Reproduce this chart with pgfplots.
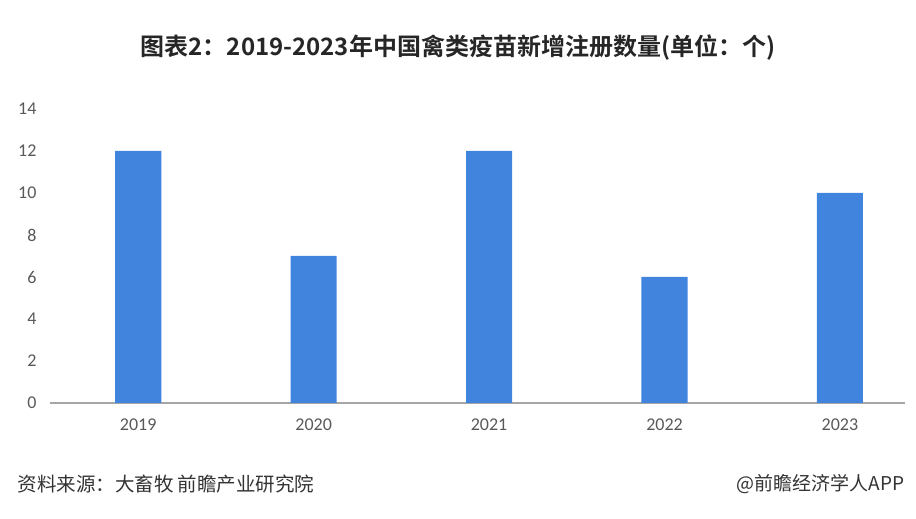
\documentclass[border=0pt]{standalone}
\usepackage{pgfplots}
\pgfplotsset{compat=1.18}
\usepackage{fontspec}
\setmainfont{Carlito}
\newfontfamily\cjk{Noto Sans CJK SC}
\newfontfamily\cjkb{Noto Sans CJK SC Bold}
\definecolor{barblue}{RGB}{65,132,222}
\definecolor{axgray}{RGB}{166,166,166}
\definecolor{ticktxt}{RGB}{89,89,89}
\definecolor{titletxt}{RGB}{38,38,38}
\definecolor{foottxt}{RGB}{51,51,51}
\begin{document}
\begin{tikzpicture}[x=1pt,y=1pt]
\path[use as bounding box] (0,0) rectangle (916,519);
\begin{axis}[
  at={(50pt,116pt)}, anchor=south west,
  scale only axis, width=855pt, height=294pt,
  xmin=-0.503, xmax=4.371, ymin=0, ymax=14,
  ytick={0,2,...,14},
  xtick={0,1,2,3,4},
  xticklabels={2019,2020,2021,2022,2023},
  axis x line*=bottom, axis y line*=left,
  x axis line style={axgray, line width=1.2pt, -},
  y axis line style={draw=none},
  xtick style={draw=none},
  ytick style={draw=none},
  /pgf/number format/assume math mode=true,
  tick label style={font=\fontsize{18}{20}\selectfont, text=ticktxt},
  xticklabel style={anchor=north, yshift=-12pt},
  yticklabel style={anchor=east, xshift=-10pt},
  clip=false,
]
\addplot[ybar, bar width=0.263, fill=barblue, draw=none] coordinates {
  (0,12) (1,7) (2,12) (3,6) (4,10)
};
\end{axis}
\node[text=titletxt, font=\cjkb\fontsize{24}{28}\selectfont] at (458,471) {图表2：2019-2023年中国禽类疫苗新增注册数量(单位：个)};
\node[anchor=west, text=foottxt, font=\cjk\fontsize{19.5}{23}\selectfont] at (14,35) {资料来源：大畜牧 前瞻产业研究院};
\node[anchor=east, text=foottxt, font=\cjk\fontsize{19}{23}\selectfont] at (908,35) {@前瞻经济学人APP};
\end{tikzpicture}
\end{document}
